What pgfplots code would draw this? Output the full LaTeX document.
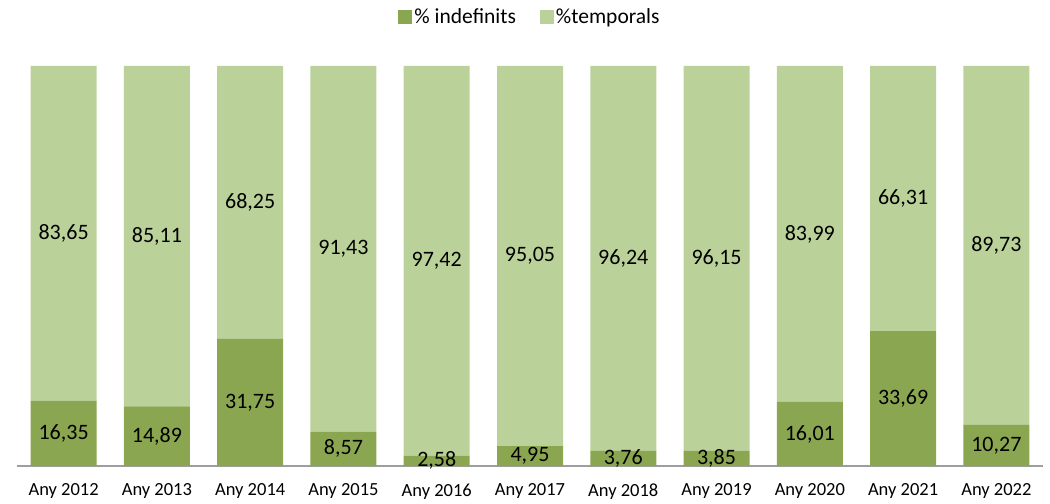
\documentclass[border=0pt]{standalone}
\usepackage{pgfplots}
\pgfplotsset{compat=1.18}
\usepackage{fontspec}
\setmainfont{Carlito}
\definecolor{darkg}{HTML}{8BA650}
\definecolor{lightg}{HTML}{BBD19A}
\begin{document}
\begin{tikzpicture}
\begin{axis}[name=ax,
  scale only axis, width=1026pt, height=400pt,
  ybar stacked, bar width=66pt,
  xmin=-0.5, xmax=10.5, ymin=0, ymax=100,
  axis x line*=bottom, axis y line=none,
  x axis line style={draw=black!38, line width=1.3pt, -},
  xtick={0,...,10}, xtick style={draw=none},
  xticklabels={Any 2012,Any 2013,Any 2014,Any 2015,Any 2016,Any 2017,Any 2018,Any 2019,Any 2020,Any 2021,Any 2022},
  xticklabel style={font=\fontsize{18.5}{21}\selectfont, text=black, yshift=-14pt},
  ytick=\empty,
  /pgf/number format/assume math mode=true,
  /pgf/number format/.cd, use comma, fixed, fixed zerofill, precision=2, /pgfplots/.cd,
  nodes near coords,
  every node near coord/.append style={font=\fontsize{22}{25}\selectfont, text=black, anchor=center},
  legend columns=2,
  legend style={draw=none, at={(0.5,1)}, anchor=south, yshift=37pt, font=\fontsize{21.5}{24}\selectfont, /tikz/every even column/.append style={column sep=22pt}},
  legend image code/.code={\fill[#1] (0pt,-7pt) rectangle (14pt,7pt);},
]
\addplot[fill=darkg, draw=none] coordinates {(0,16.35) (1,14.89) (2,31.75) (3,8.57) (4,2.58) (5,4.95) (6,3.76) (7,3.85) (8,16.01) (9,33.69) (10,10.27)};
\addlegendentry{\% indefinits}
\addplot[fill=lightg, draw=none] coordinates {(0,83.65) (1,85.11) (2,68.25) (3,91.43) (4,97.42) (5,95.05) (6,96.24) (7,96.15) (8,83.99) (9,66.31) (10,89.73)};
\addlegendentry{\%temporals}
\end{axis}
\pgfresetboundingbox
\path ([xshift=-17pt,yshift=-37pt]ax.south west) rectangle ([xshift=7pt,yshift=66pt]ax.north east);
\end{tikzpicture}
\end{document}
